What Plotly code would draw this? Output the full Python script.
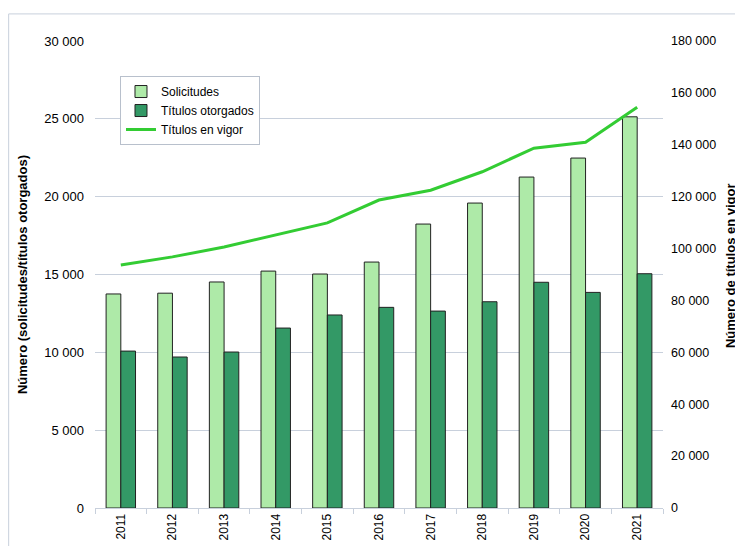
import plotly.graph_objects as go

years = ["2011", "2012", "2013", "2014", "2015", "2016", "2017", "2018", "2019", "2020", "2021"]
solicitudes = [13750, 13800, 14520, 15220, 15030, 15800, 18240, 19590, 21260, 22480, 25130]
otorgados = [10080, 9700, 10020, 11560, 12400, 12890, 12650, 13250, 14500, 13850, 15050]
en_vigor = [93700, 96800, 100600, 105200, 109900, 118700, 122500, 129600, 138700, 141000, 154500]

left_ticks = [0, 5000, 10000, 15000, 20000, 25000, 30000]
right_ticks = [0, 20000, 40000, 60000, 80000, 100000, 120000, 140000, 160000, 180000]

def fmt(v):
    return f"{v:,}".replace(",", " ")

FONT = "Liberation Sans, Arial, sans-serif"
GRID = "#c8d0dc"

fig = go.Figure()
fig.add_trace(go.Bar(x=years, y=solicitudes, name="Solicitudes",
                     marker=dict(color="#aeeaa8", line=dict(color="#222222", width=1))))
fig.add_trace(go.Bar(x=years, y=otorgados, name="Títulos otorgados",
                     marker=dict(color="#339966", line=dict(color="#222222", width=1))))
fig.add_trace(go.Scatter(x=years, y=en_vigor, name="Títulos en vigor", yaxis="y2",
                         mode="lines", line=dict(color="#33cc33", width=3)))

# page body has an 8px margin, so the figure is sized to fit the window
fig.update_layout(
    width=735, height=538,
    margin=dict(l=87, r=80, t=33, b=38, autoexpand=False),
    paper_bgcolor="white", plot_bgcolor="white",
    font=dict(family=FONT, size=12, color="#000"),
    barmode="group", bargap=0.43, bargroupgap=0,
    showlegend=True,
    legend=dict(x=0.044, y=0.925, xanchor="left", yanchor="top",
                bgcolor="white", bordercolor="#b8c0cc", borderwidth=1,
                font=dict(size=12, family=FONT), tracegroupgap=2,
                itemwidth=30),
    xaxis=dict(type="category", tickangle=-90, showgrid=False,
               showline=True, linecolor=GRID, linewidth=1,
               ticks="outside", tickson="boundaries", tickcolor=GRID,
               ticklen=5, tickfont=dict(size=12)),
    yaxis=dict(range=[0, 30000], tickvals=left_ticks,
               ticktext=[fmt(v) for v in left_ticks],
               showgrid=True, gridcolor=GRID, gridwidth=1,
               zeroline=False, showline=False, ticks="", ticklabelstandoff=10,
               tickfont=dict(size=13),
               title=dict(text="<b>Número (solicitudes/títulos otorgados)</b>",
                          font=dict(size=13), standoff=13)),
    yaxis2=dict(range=[0, 180000], tickvals=right_ticks,
                ticktext=[fmt(v) for v in right_ticks],
                overlaying="y", side="right", showgrid=False,
                zeroline=False, showline=False, ticks="", ticklabelstandoff=7,
                tickfont=dict(size=12.5)),
)

# right axis title placed as an annotation so it sits near the window edge
fig.add_annotation(text="<b>Número de títulos en vigor</b>", xref="paper", yref="paper",
                   x=1.118, y=0.518, xanchor="center", yanchor="middle",
                   textangle=-90, showarrow=False, font=dict(size=13, family=FONT))

# outer frame like the source sheet
fig.add_shape(type="line", xref="paper", yref="paper", x0=-0.152, x1=1.2, y0=1.058, y1=1.058,
              line=dict(color=GRID, width=1))
fig.add_shape(type="line", xref="paper", yref="paper", x0=-0.152, x1=-0.152, y0=-0.2, y1=1.058,
              line=dict(color=GRID, width=1))

fig.write_html("out.html")
